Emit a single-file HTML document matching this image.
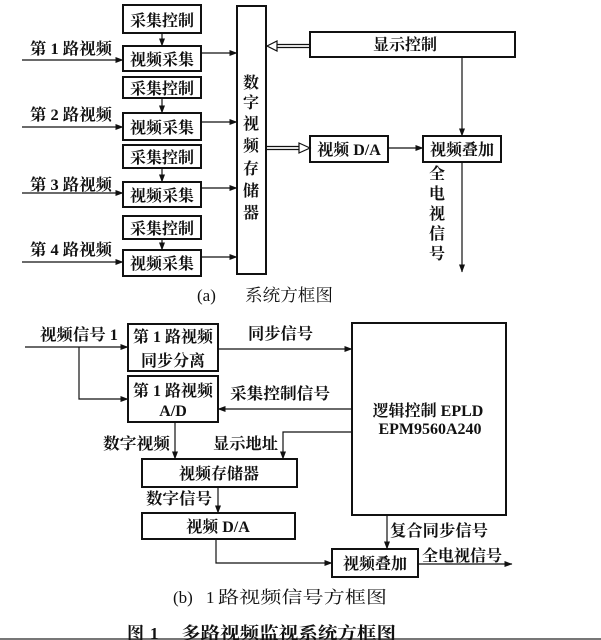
<!DOCTYPE html>
<html><head><meta charset="utf-8"><style>
html,body{margin:0;padding:0;background:#fff;}
svg{display:block;}
text{font-family:"Liberation Serif","Noto Serif CJK SC",serif;font-weight:bold;fill:#111;}
text.cap{font-weight:normal;}
</style></head><body>
<svg width="601" height="640" viewBox="0 0 601 640" xmlns="http://www.w3.org/2000/svg">
<defs>
<marker id="a" markerWidth="8" markerHeight="6" refX="7.5" refY="3" orient="auto" markerUnits="userSpaceOnUse"><path d="M0,0 L8,3 L0,6 z" fill="#111"/></marker>
</defs>
<rect width="601" height="640" fill="#fff"/>
<g stroke="#111" fill="none" stroke-width="2">
<rect x="123" y="5" width="78" height="28"/>
<rect x="123" y="46" width="78" height="25"/>
<rect x="123" y="77" width="78" height="21"/>
<rect x="123" y="113" width="78" height="27"/>
<rect x="123" y="145" width="78" height="23"/>
<rect x="123" y="182" width="78" height="25"/>
<rect x="123" y="216" width="78" height="23"/>
<rect x="123" y="250" width="78" height="26"/>
<rect x="237" y="6" width="29" height="268"/>
<rect x="310" y="32" width="205" height="25"/>
<rect x="310" y="136" width="78" height="26"/>
<rect x="423" y="136" width="78" height="26"/>
<rect x="128" y="324" width="90" height="47"/>
<rect x="128" y="376" width="90" height="46"/>
<rect x="142" y="459" width="155" height="28"/>
<rect x="142" y="513" width="153" height="26"/>
<rect x="332" y="549" width="86" height="28"/>
<rect x="352" y="323" width="154" height="192"/>
</g>
<g stroke="#111" fill="none" stroke-width="1.2">
<line x1="22" y1="60" x2="123" y2="60" marker-end="url(#a)"/>
<line x1="22" y1="127" x2="123" y2="127" marker-end="url(#a)"/>
<line x1="22" y1="193" x2="123" y2="193" marker-end="url(#a)"/>
<line x1="22" y1="262" x2="123" y2="262" marker-end="url(#a)"/>
<line x1="162" y1="33" x2="162" y2="46" marker-end="url(#a)"/>
<line x1="162" y1="98" x2="162" y2="113" marker-end="url(#a)"/>
<line x1="162" y1="168" x2="162" y2="182" marker-end="url(#a)"/>
<line x1="162" y1="239" x2="162" y2="250" marker-end="url(#a)"/>
<line x1="201" y1="53" x2="237" y2="53" marker-end="url(#a)"/>
<line x1="201" y1="122" x2="237" y2="122" marker-end="url(#a)"/>
<line x1="201" y1="188" x2="237" y2="188" marker-end="url(#a)"/>
<line x1="201" y1="257" x2="237" y2="257" marker-end="url(#a)"/>
<line x1="277" y1="44.5" x2="310" y2="44.5"/>
<line x1="277" y1="47.5" x2="310" y2="47.5"/>
<line x1="266" y1="146.5" x2="299" y2="146.5"/>
<line x1="266" y1="149.5" x2="299" y2="149.5"/>
<line x1="462" y1="57" x2="462" y2="136" marker-end="url(#a)"/>
<line x1="388" y1="148" x2="423" y2="148" marker-end="url(#a)"/>
<line x1="462" y1="162" x2="462" y2="272" marker-end="url(#a)"/>
<line x1="25" y1="347" x2="128" y2="347" marker-end="url(#a)"/>
<polyline points="79,347 79,399 128,399" marker-end="url(#a)"/>
<line x1="218" y1="349" x2="352" y2="349" marker-end="url(#a)"/>
<line x1="352" y1="409" x2="218" y2="409" marker-end="url(#a)"/>
<polyline points="352,432 283,432 283,459" marker-end="url(#a)"/>
<line x1="175" y1="422" x2="175" y2="459" marker-end="url(#a)"/>
<line x1="218" y1="487" x2="218" y2="513" marker-end="url(#a)"/>
<polyline points="216,539 216,563 332,563" marker-end="url(#a)"/>
<line x1="387" y1="515" x2="387" y2="549" marker-end="url(#a)"/>
<line x1="418" y1="564" x2="512" y2="564" marker-end="url(#a)"/>
</g>
<polygon points="267,46 277,41 277,51" fill="#fff" stroke="#111" stroke-width="1.2"/>
<polygon points="310,148 299,143 299,153" fill="#fff" stroke="#111" stroke-width="1.2"/>
<line x1="0" y1="639" x2="601" y2="639" stroke="#777" stroke-width="2"/>

<g font-size="16">
<text x="30" y="54" textLength="82" lengthAdjust="spacingAndGlyphs">第 1 路视频</text>
<text x="30" y="120" textLength="82" lengthAdjust="spacingAndGlyphs">第 2 路视频</text>
<text x="30" y="190" textLength="82" lengthAdjust="spacingAndGlyphs">第 3 路视频</text>
<text x="30" y="255" textLength="82" lengthAdjust="spacingAndGlyphs">第 4 路视频</text>
<g text-anchor="middle">
<text x="162" y="26">采集控制</text>
<text x="162" y="65">视频采集</text>
<text x="162" y="94">采集控制</text>
<text x="162" y="133">视频采集</text>
<text x="162" y="163">采集控制</text>
<text x="162" y="201">视频采集</text>
<text x="162" y="234">采集控制</text>
<text x="162" y="269">视频采集</text>
<text x="251" y="88">数</text>
<text x="251" y="108">字</text>
<text x="251" y="129">视</text>
<text x="251" y="151">频</text>
<text x="251" y="174">存</text>
<text x="251" y="196">储</text>
<text x="251" y="218">器</text>
<text x="405" y="50">显示控制</text>
<text x="349" y="155">视频 D/A</text>
<text x="462" y="155">视频叠加</text>
<text x="437" y="179">全</text>
<text x="437" y="199">电</text>
<text x="437" y="219">视</text>
<text x="437" y="239">信</text>
<text x="437" y="259">号</text>
</g>
<text class="cap" x="197" y="301" font-size="17">(a)</text>
<text class="cap" x="245" y="301" font-size="17" textLength="88" lengthAdjust="spacingAndGlyphs">系统方框图</text>

<text x="40" y="340" textLength="78" lengthAdjust="spacingAndGlyphs">视频信号 1</text>
<g text-anchor="middle">
<text x="173" y="342">第 1 路视频</text>
<text x="173" y="366">同步分离</text>
<text x="173" y="396">第 1 路视频</text>
<text x="173" y="416">A/D</text>
<text x="219" y="479">视频存储器</text>
<text x="218" y="532">视频 D/A</text>
<text x="375" y="569">视频叠加</text>
<text x="428" y="416">逻辑控制 EPLD</text>
<text x="430" y="434">EPM9560A240</text>
</g>
<text x="248" y="339" textLength="65" lengthAdjust="spacingAndGlyphs">同步信号</text>
<text x="230" y="399" textLength="100" lengthAdjust="spacingAndGlyphs">采集控制信号</text>
<text x="103" y="449" textLength="67" lengthAdjust="spacingAndGlyphs">数字视频</text>
<text x="213" y="449" textLength="65" lengthAdjust="spacingAndGlyphs">显示地址</text>
<text x="146" y="504" textLength="66" lengthAdjust="spacingAndGlyphs">数字信号</text>
<text x="390" y="536" textLength="98" lengthAdjust="spacingAndGlyphs">复合同步信号</text>
<text x="422" y="561" textLength="80" lengthAdjust="spacingAndGlyphs">全电视信号</text>
<text class="cap" x="173" y="603" font-size="17">(b)</text>
<text class="cap" x="206" y="603" font-size="17">1</text>
<text class="cap" x="218" y="603" font-size="17" textLength="169" lengthAdjust="spacingAndGlyphs">路视频信号方框图</text>
<text x="127" y="639" font-size="17">图</text>
<text x="150" y="639" font-size="17">1</text>
<text x="181" y="639" font-size="17" textLength="215" lengthAdjust="spacingAndGlyphs">多路视频监视系统方框图</text>
</g>
</svg>
</body></html>
